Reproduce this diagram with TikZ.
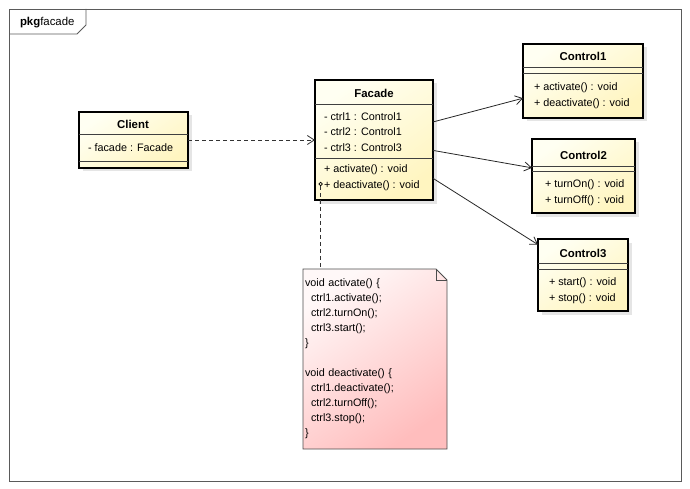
\documentclass[tikz,border=0pt]{standalone}
\usepackage{fontspec}
\setmainfont{Liberation Sans}
\usetikzlibrary{arrows.meta,shadows,positioning,backgrounds}
\definecolor{classlight}{HTML}{FFFFF2}
\definecolor{classdark}{HTML}{FFF5C0}
\definecolor{notelight}{HTML}{FFF8F8}
\definecolor{notedark}{HTML}{FFBDBD}
\definecolor{framegray}{HTML}{5A5A5A}
\tikzset{
    every node/.style={inner sep=0pt, outer sep=0pt,
        font=\fontsize{10.8}{12}\selectfont},
    umlclass/.style={
        draw=black,
        line width=1.5pt,
        anchor=north west,
        top color=classlight,
        bottom color=classdark,
        shading angle=35,
        drop shadow={shadow xshift=3.5pt, shadow yshift=-3.5pt, fill=black!20}
    },
    sep/.style={draw=black!75, line width=0.8pt},
    frame/.style={draw=framegray, line width=0.8pt},
    assoc/.style={draw=black!85, line width=0.8pt,
        -{Straight Barb[length=7pt,width=9pt]}},
    depend/.style={draw=black!80, line width=0.8pt, dashed,
        dash pattern=on 4pt off 3pt,
        -{Straight Barb[length=7pt,width=9pt]}},
}

\begin{document}
\begin{tikzpicture}[
    x=1pt, y=-1pt,
    classname/.style={font=\fontsize{11.4}{12}\selectfont\bfseries},
    member/.style={anchor=west},
    notetext/.style={anchor=north west, align=left,
        font=\fontsize{10.8}{15}\selectfont,
        minimum width=144, minimum height=180, text width=140},
  ]
  \useasboundingbox (0,0) rectangle (690,489);
  % Package frame
  \draw[frame] (9,9) rectangle (681,481);
  \draw[frame] (9,34) -- (77,34) -- (86,25) -- (86,9);
  \node[anchor=west, font=\fontsize{11.4}{12}\selectfont] (pkg) at (20,23) {\textbf{pkg}facade};

  % Client
  \node[umlclass, minimum width=109, minimum height=56] (client) at (79,112) {};
  \node[classname] (client-name) at (133,124) {Client};
  \draw[sep] (79,134) -- (188,134);
  \draw[sep] (79,161) -- (188,161);
  \node[member] (client-a1) at (88,148) {- facade : Facade};

  % Facade
  \node[umlclass, minimum width=118, minimum height=120] (facade) at (315,80) {};
  \node[classname] (facade-name) at (374,93) {Facade};
  \draw[sep] (315,104) -- (433,104);
  \draw[sep] (315,158) -- (433,158);
  \node[member] (facade-a1) at (324,117) {- ctrl1 : Control1};
  \node[member] (facade-a2) at (324,132) {- ctrl2 : Control1};
  \node[member] (facade-a3) at (324,148) {- ctrl3 : Control3};
  \node[member] (facade-m1) at (324,170) {+ activate() : void};
  \node[member] (facade-m2) at (324,186) {+ deactivate() : void};
  \node[draw=black, circle, line width=0.7pt, minimum size=3.5pt] (pin) at (320.5,184) {};

  % Control1
  \node[umlclass, minimum width=120, minimum height=74] (control1) at (523,44) {};
  \node[classname] (control1-name) at (583,56) {Control1};
  \draw[sep] (523,67) -- (643,67);
  \draw[sep] (523,73) -- (643,73);
  \node[member] (control1-m1) at (534,88) {+ activate() : void};
  \node[member] (control1-m2) at (534,104) {+ deactivate() : void};

  % Control2
  \node[umlclass, minimum width=103, minimum height=74] (control2) at (532,139) {};
  \node[classname] (control2-name) at (583.5,155) {Control2};
  \draw[sep] (532,166) -- (635,166);
  \draw[sep] (532,171) -- (635,171);
  \node[member] (control2-m1) at (545,185) {+ turnOn() : void};
  \node[member] (control2-m2) at (545,201) {+ turnOff() : void};

  % Control3
  \node[umlclass, minimum width=90, minimum height=72] (control3) at (538,239) {};
  \node[classname] (control3-name) at (583,253) {Control3};
  \draw[sep] (538,263) -- (628,263);
  \draw[sep] (538,269) -- (628,269);
  \node[member] (control3-m1) at (549,283) {+ start() : void};
  \node[member] (control3-m2) at (549,299) {+ stop() : void};

  % Note
  \node[notetext] (note) at (303,269) {void activate() \{\\
    \hspace*{6pt}ctrl1.activate();\\
    \hspace*{6pt}ctrl2.turnOn();\\
    \hspace*{6pt}ctrl3.start();\\
    \}\\[15pt]
    void deactivate() \{\\
    \hspace*{6pt}ctrl1.deactivate();\\
    \hspace*{6pt}ctrl2.turnOff();\\
    \hspace*{6pt}ctrl3.stop();\\
    \}\\[2pt]};
  \begin{scope}[on background layer]
    \shade[top color=notelight, bottom color=notedark, shading angle=35]
      (note.north west) -- ([xshift=-11pt]note.north east)
      -- ([yshift=-11pt]note.north east) -- (note.south east)
      -- (note.south west) -- cycle;
    \draw[draw=black!70, line width=0.8pt]
      (note.north west) -- ([xshift=-11pt]note.north east)
      -- ([yshift=-11pt]note.north east) -- (note.south east)
      -- (note.south west) -- cycle;
    \draw[draw=black!70, line width=0.8pt]
      ([xshift=-11pt]note.north east) -- ([xshift=-11pt,yshift=-11pt]note.north east)
      -- ([yshift=-11pt]note.north east);
  \end{scope}

  % Connectors
  \draw[depend] (client.east) -- (facade.west);
  \draw[assoc] (facade.17) -- (control1.196);
  \draw[assoc] (facade.-10) -- (control2.171);
  \draw[assoc] (facade.-33) -- (control3.146);
  \draw[draw=black!80, line width=0.8pt, dash pattern=on 4pt off 3pt]
    (pin.south) -- (pin.south |- note.north);
\end{tikzpicture}
\end{document}
